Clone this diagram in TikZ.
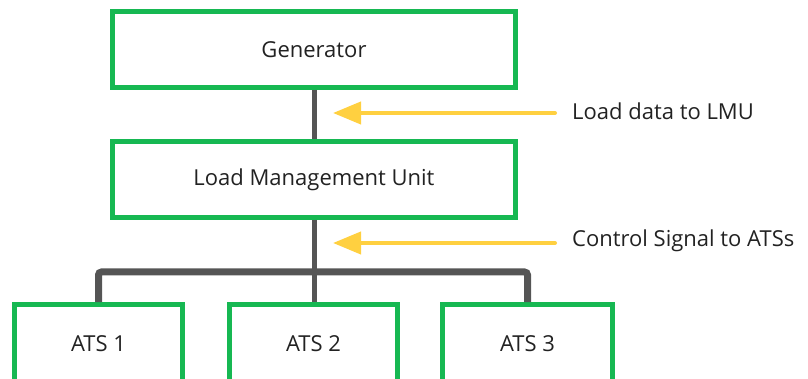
\documentclass[tikz,border=0pt]{standalone}
\usepackage{fontspec}
\setmainfont{Open Sans}
\usetikzlibrary{arrows.meta}
\definecolor{boxgreen}{RGB}{22,184,82}
\definecolor{arrowyellow}{RGB}{255,208,64}
\definecolor{linegrey}{RGB}{85,85,85}
\definecolor{textgrey}{RGB}{34,34,34}
\begin{document}
\begin{tikzpicture}[x=1pt,y=-1pt,
  box/.style={draw=boxgreen,line width=5pt,fill=white,minimum width=#1,inner sep=0pt,
    font=\fontsize{22}{25}\selectfont,text=textgrey},
  box/.default=403pt,
  link/.style={draw=linegrey,line width=5pt},
  drop/.style={draw=linegrey,line width=7pt,rounded corners=3pt},
  signal/.style={draw=arrowyellow,line width=4pt,line cap=round,
    -{Triangle[length=28pt,width=22pt]}},
  lbl/.style={anchor=west,inner sep=0pt,font=\fontsize{22}{25}\selectfont,text=textgrey}]
\useasboundingbox (0,0) rectangle (808,379);
\clip (0,0) rectangle (808,379);
\node[box,minimum height=76pt] (gen) at (314,49.5) {Generator};
\node[box,minimum height=76pt] (lmu) at (314,179.5) {Load Management Unit};
\node[box=168pt,minimum height=78pt] (ats1) at (98.5,343.5) {ATS 1};
\node[box=168pt,minimum height=78pt] (ats2) at (313.5,343.5) {ATS 2};
\node[box=170pt,minimum height=78pt] (ats3) at (527.5,343.5) {ATS 3};
\coordinate (bar) at (314,272);
\draw[link] (gen.south) -- (lmu.north);
\draw[link] (lmu.south) -- (lmu.south |- ats2.north);
\draw[drop] (ats1.north) |- (bar) -| (ats3.north);
\node[lbl] (l1) at (572,111) {Load data to LMU};
\node[lbl] (l2) at (572,241) {Control Signal to ATSs};
\coordinate (t1) at (333,113);
\coordinate (t2) at (333,243);
\draw[signal] (l1.west |- t1) ++(-17,0) coordinate (s1) -- (t1);
\draw[signal] (l2.west |- t2) ++(-17,0) coordinate (s2) -- (t2);
\end{tikzpicture}
\end{document}
